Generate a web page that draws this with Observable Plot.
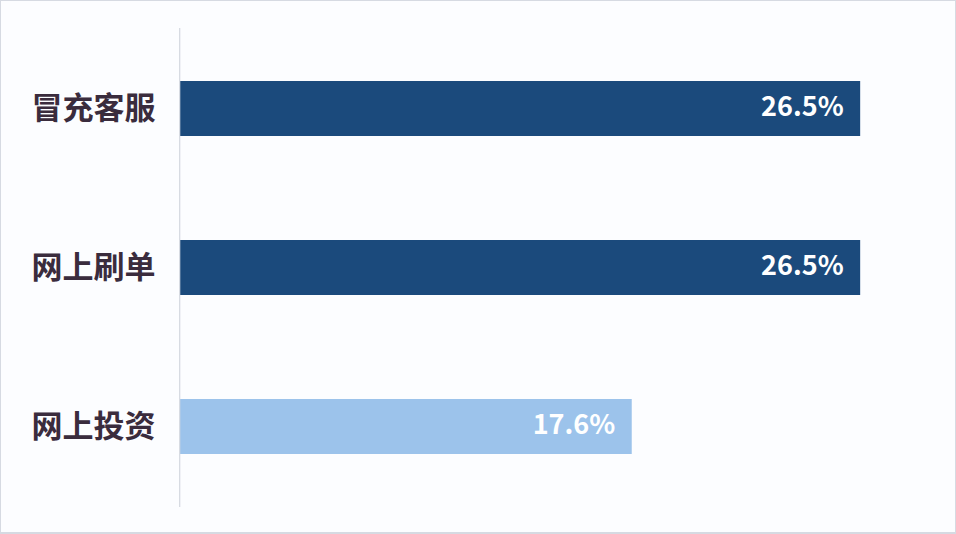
<!DOCTYPE html>
<html>
<head>
<meta charset="utf-8">
<script src="https://cdn.jsdelivr.net/npm/d3@7"></script>
<script src="https://cdn.jsdelivr.net/npm/@observablehq/plot@0.6"></script>
<style>
  html, body { margin: 0; padding: 0; background: #fcfdff; }
  #wrap { position: relative; width: 956px; height: 534px; overflow: hidden; }
  #frame { position: absolute; left: 0; top: 0; width: 956px; height: 534px; box-sizing: border-box; border: 1px solid #d6dae2; border-bottom-width: 2px; pointer-events: none; }
  svg { display: block; }
</style>
</head>
<body>
<div id="wrap"><div id="frame"></div></div>
<script>
const categories = ["冒充客服", "网上刷单", "网上投资"];
const values = [26.5, 26.5, 17.6];
const valueLabels = ["26.5%", "26.5%", "17.6%"];
const barColors = ["#1b4a7c", "#1b4a7c", "#9cc3eb"];

const data = categories.map((c, i) => ({ cat: c, v: values[i], label: valueLabels[i], color: barColors[i] }));

const chart = Plot.plot({
  width: 956,
  height: 534,
  marginLeft: 180,
  marginRight: 6,
  marginTop: 28,
  marginBottom: 27,
  style: { background: "transparent", fontFamily: "'Noto Sans CJK SC', sans-serif" },
  x: { domain: [0, 30], axis: null },
  y: { domain: categories, paddingInner: 0.656, paddingOuter: 0.328, label: null },
  marks: [
    Plot.barX(data, { y: "cat", x: "v", fill: "color" }),
    Plot.ruleX([0], { stroke: "#d3d7df", strokeWidth: 1.2, dx: -0.8 }),
    Plot.axisY({ tickSize: 0, tickPadding: 25, fontSize: 31, fontWeight: "bold", fill: "#3a2c3d", label: null }),
    Plot.text(data, { y: "cat", x: "v", text: "label", textAnchor: "end", dx: -17, dy: -2, fill: "white", fontSize: 27, fontWeight: "bold", fontFamily: "'Noto Sans CJK SC', sans-serif" })
  ]
});
document.getElementById("wrap").prepend(chart);
</script>
</body>
</html>
